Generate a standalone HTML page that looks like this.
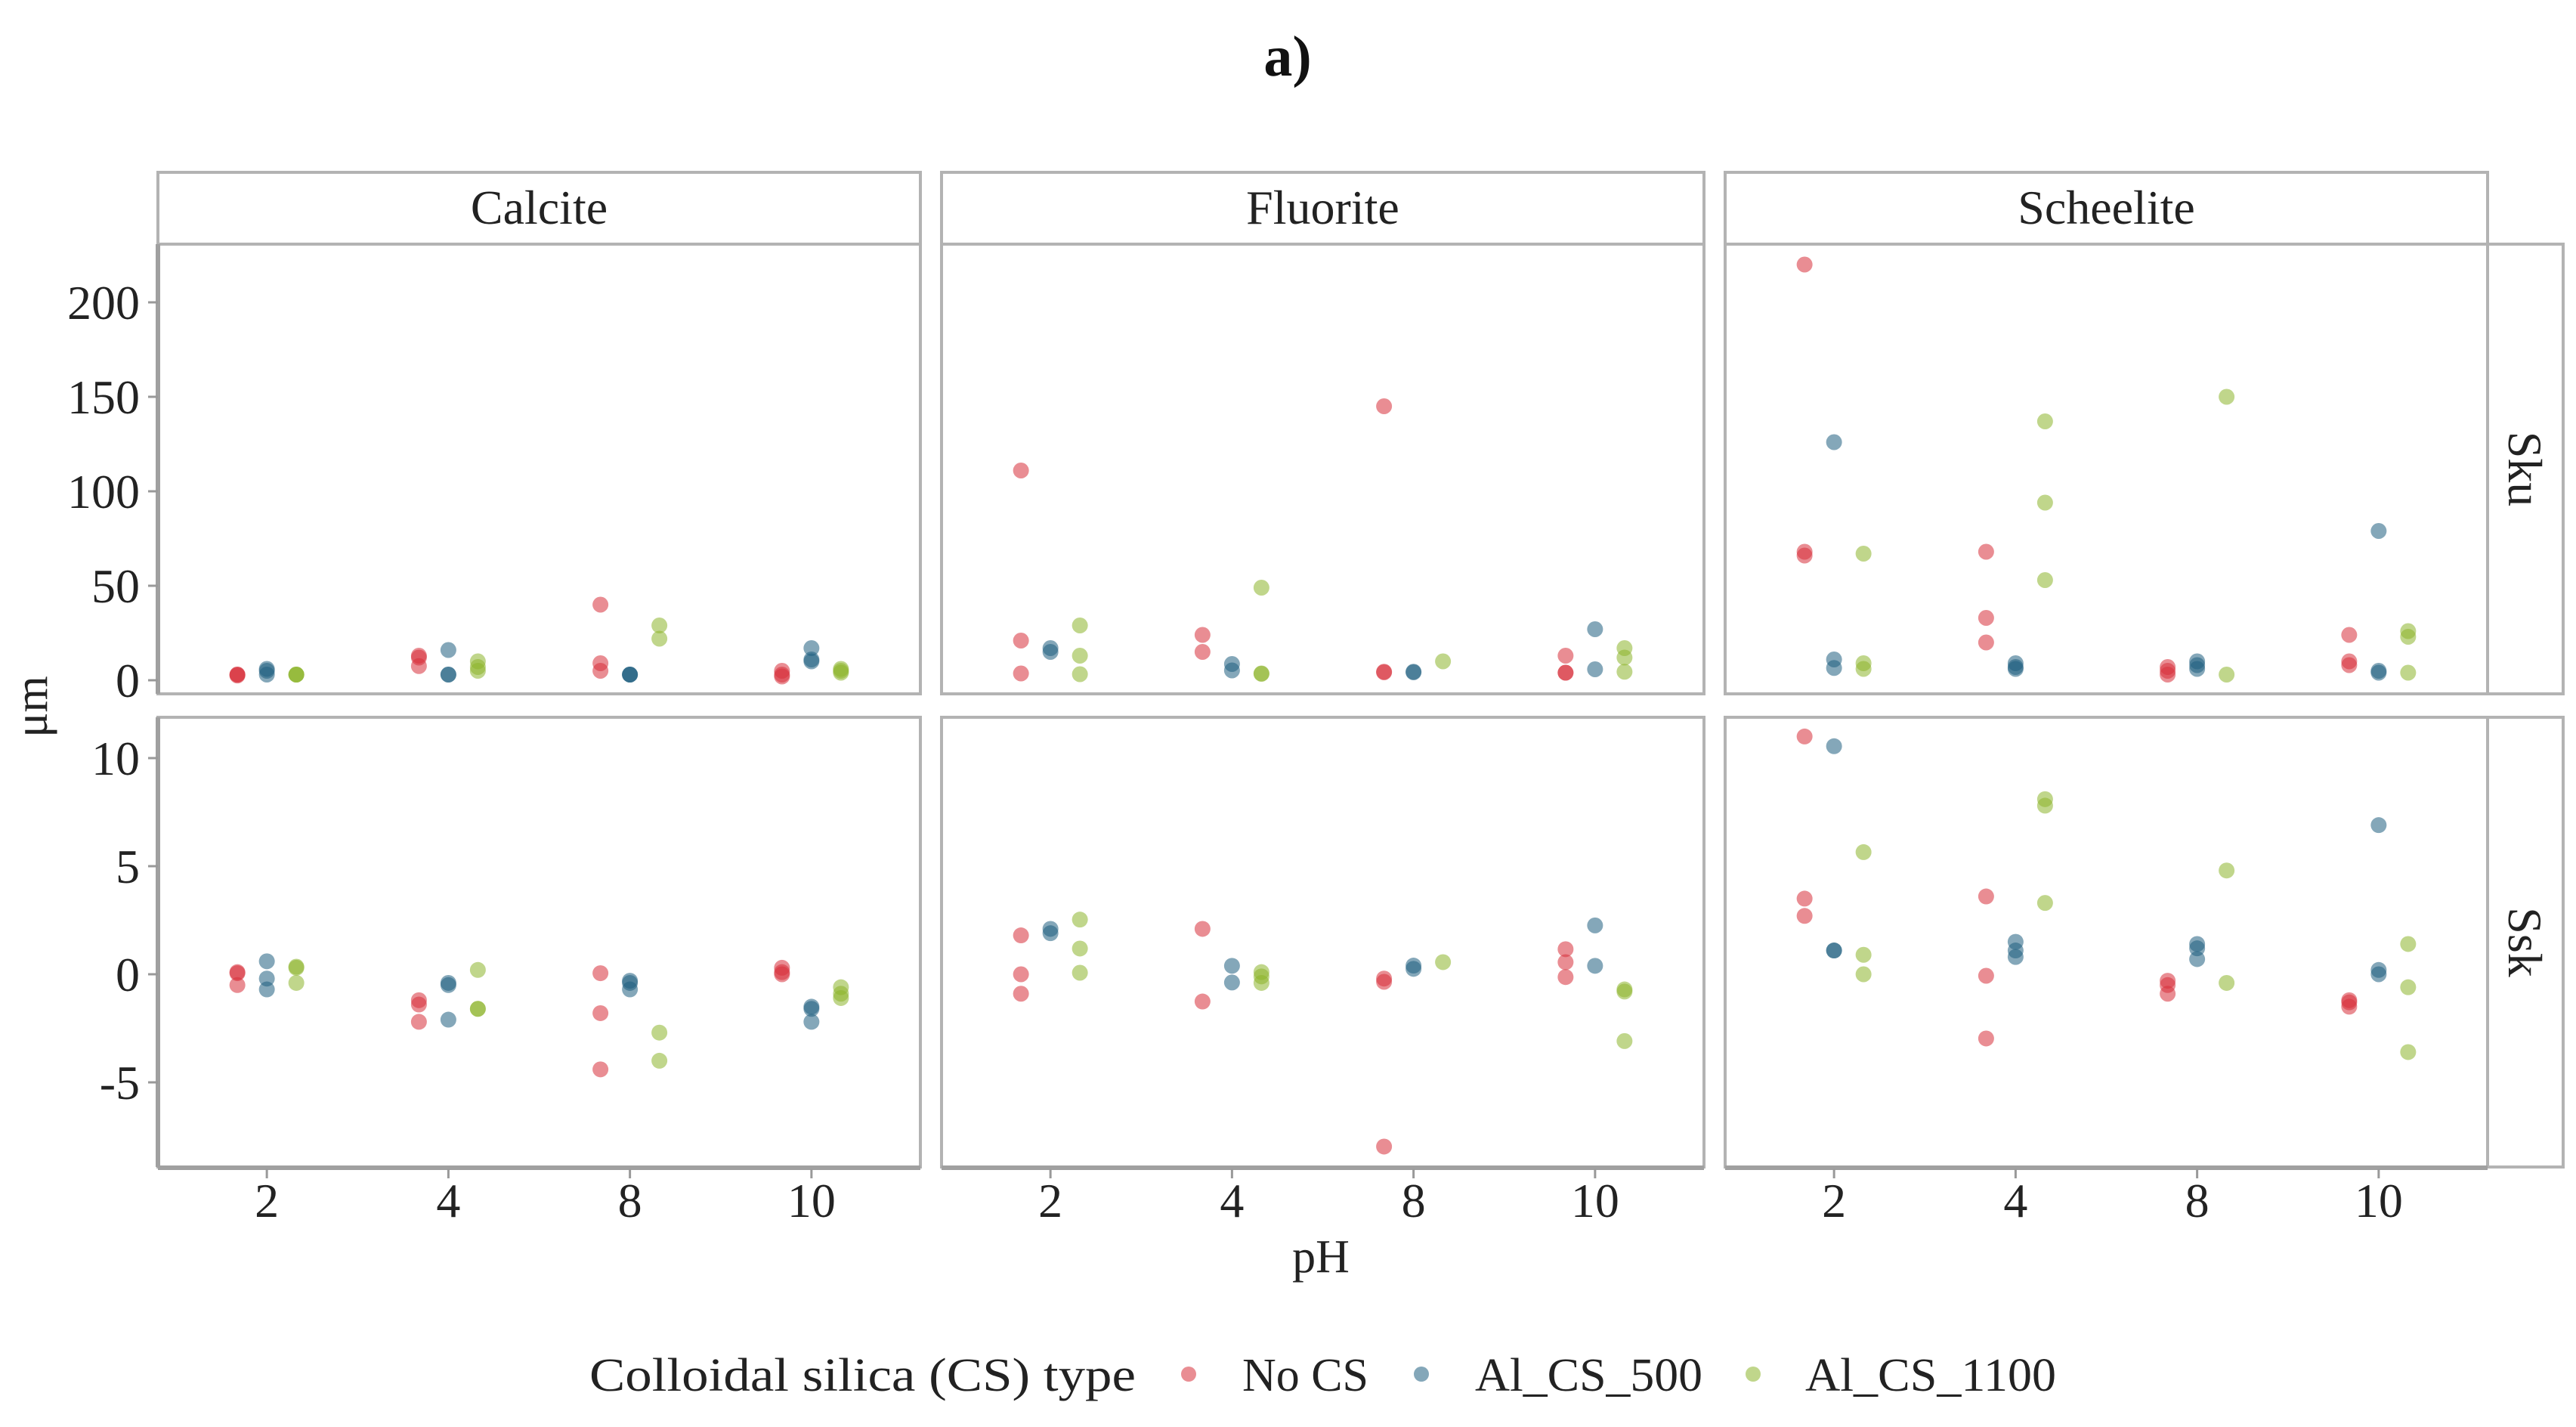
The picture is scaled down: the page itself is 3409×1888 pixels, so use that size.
<!DOCTYPE html>
<html><head><meta charset="utf-8"><style>
html,body{margin:0;padding:0;background:#fff;}
svg{display:block;}
svg text{font-family:"Liberation Serif","Times New Roman",Times,serif;}
</style></head><body>
<svg id="chart" width="3409" height="1888" viewBox="0 0 3409 1888" xmlns="http://www.w3.org/2000/svg" font-family="Liberation Serif, Times New Roman, serif">
<text x="1704" y="100" font-size="76" font-weight="bold" text-anchor="middle" fill="#111">a)</text>
<g id="panels"></g>
<text x="0" y="0" font-size="62" text-anchor="middle" fill="#222" transform="translate(62,935) rotate(-90)">μm</text>
<text x="1748" y="1683" font-size="62" text-anchor="middle" fill="#222">pH</text>
<g>
<text x="780" y="1840" font-size="62" textLength="723" lengthAdjust="spacingAndGlyphs" fill="#222">Colloidal silica (CS) type</text>
<circle cx="1573" cy="1818" r="10" fill="#d7303a" fill-opacity="0.55"/>
<text x="1644" y="1840" font-size="62" textLength="167" lengthAdjust="spacingAndGlyphs" fill="#222">No CS</text>
<circle cx="1881" cy="1818" r="10" fill="#1f5f80" fill-opacity="0.55"/>
<text x="1952" y="1840" font-size="62" textLength="301" lengthAdjust="spacingAndGlyphs" fill="#222">Al_CS_500</text>
<circle cx="2320" cy="1818" r="10" fill="#8db52c" fill-opacity="0.55"/>
<text x="2389" y="1840" font-size="62" textLength="332" lengthAdjust="spacingAndGlyphs" fill="#222">Al_CS_1100</text>
</g>
</svg>
<script>
// ---- data ----
const minerals = ["Calcite", "Fluorite", "Scheelite"];
const metrics = ["Sku", "Ssk"];
const phCategories = ["2", "4", "8", "10"];
const seriesNames = ["No CS", "Al_CS_500", "Al_CS_1100"];
const skuTicks = [0, 50, 100, 150, 200];
const sskTicks = [-5, 0, 5, 10];
// values per pH category (replicates)
const calciteSkuNoCS   = [[3,3,2.5],[13,12,7.5],[40,9,5],[5,3,2]];
const calciteSku500    = [[6,5,3],[16,3,3],[3,3,3],[17,11,10]];
const calciteSku1100   = [[3,3,3],[10,7,5],[29,22],[6,5,4]];
const calciteSskNoCS   = [[0.05,0.1,-0.5],[-1.2,-1.4,-2.2],[0.05,-1.8,-4.4],[0.3,0.1,0]];
const calciteSsk500    = [[0.6,-0.2,-0.7],[-0.4,-0.5,-2.1],[-0.3,-0.4,-0.7],[-1.5,-1.6,-2.2]];
const calciteSsk1100   = [[0.3,0.35,-0.4],[0.2,-1.6,-1.6],[-2.7,-4.0],[-0.6,-0.9,-1.1]];
const fluoriteSkuNoCS  = [[111,21,3.6],[24,15],[145,4.5,4.2],[13,4,4]];
const fluoriteSku500   = [[17,15],[8.6,5.2],[4.5,4.2],[27,5.8]];
const fluoriteSku1100  = [[29,13,3.2],[49,3.6,3.4],[10],[17,12,4.5]];
const fluoriteSskNoCS  = [[1.8,0,-0.9],[2.1,-1.26],[-0.2,-0.35,-7.97],[1.16,0.56,-0.13]];
const fluoriteSsk500   = [[2.1,1.9],[0.39,-0.38],[0.4,0.25],[2.26,0.39]];
const fluoriteSsk1100  = [[2.53,1.19,0.07],[0.1,-0.1,-0.4],[0.56],[-0.7,-0.8,-3.09]];
const scheeliteSkuNoCS = [[220,68,66],[68,33,20],[7,5,3],[24,10,8]];
const scheeliteSku500  = [[126,11,6.5],[9,7,6],[10,8,6],[79,5,4]];
const scheeliteSku1100 = [[67,9,6],[137,94,53],[150,3],[26,23,4]];
const scheeliteSskNoCS = [[11,3.5,2.7],[3.6,-0.07,-2.97],[-0.3,-0.5,-0.9],[-1.2,-1.3,-1.5]];
const scheeliteSsk500  = [[10.55,1.1,1.1],[1.5,1.1,0.8],[1.4,1.2,0.7],[6.9,0.2,0]];
const scheeliteSsk1100 = [[5.65,0.9,0],[8.1,7.8,3.3],[4.8,-0.4],[1.4,-0.6,-3.6]];

const dataSets = {
  Calcite:  {Sku:[calciteSkuNoCS,calciteSku500,calciteSku1100], Ssk:[calciteSskNoCS,calciteSsk500,calciteSsk1100]},
  Fluorite: {Sku:[fluoriteSkuNoCS,fluoriteSku500,fluoriteSku1100], Ssk:[fluoriteSskNoCS,fluoriteSsk500,fluoriteSsk1100]},
  Scheelite:{Sku:[scheeliteSkuNoCS,scheeliteSku500,scheeliteSku1100], Ssk:[scheeliteSskNoCS,scheeliteSsk500,scheeliteSsk1100]}
};

// ---- layout ----
const NS = "http://www.w3.org/2000/svg";
const colors = ["#d7303a", "#1f5f80", "#8db52c"];
const panelLeft = [209, 1246, 2283];
const panelW = 1009;
const rows = {Sku:{top:323,bottom:918,v0:900,scale:2.5,ticks:skuTicks}, Ssk:{top:949,bottom:1544,v0:1289,scale:28.6,ticks:sskTicks}};
const stripTop = 228;
const root = document.getElementById("panels");
function mk(tag, attrs){ const e=document.createElementNS(NS,tag); for(const k in attrs) e.setAttribute(k,attrs[k]); return e; }
function xScale(pi, i, s){ return panelLeft[pi] + panelW*(i+0.6)/4.2 + (s-1)*39; }
function yScale(m, v){ return rows[m].v0 - v*rows[m].scale; }

minerals.forEach((mn, pi) => {
  const L = panelLeft[pi];
  const strip = mk("rect",{x:L,y:stripTop,width:panelW,height:rows.Sku.top-stripTop,fill:"#fff",stroke:"#b3b3b3","stroke-width":4});
  
  
  root.appendChild(strip);
  const st = mk("text",{x:L+panelW/2,y:296,"font-size":64,"text-anchor":"middle",fill:"#222"});
  st.textContent = mn;
  
  
  root.appendChild(st);
  metrics.forEach(m => {
    const r = rows[m];
    const box = mk("rect",{x:L,y:r.top,width:panelW,height:r.bottom-r.top,fill:"#fff",stroke:"#b3b3b3","stroke-width":4});
    
    
    root.appendChild(box);
    if (pi === 0) {
      const ax = mk("line",{x1:L,y1:r.top,x2:L,y2:r.bottom,stroke:"#a0a0a0","stroke-width":6});
      
      
      root.appendChild(ax);
      r.ticks.forEach(t => {
        const y = yScale(m, t);
        const tk = mk("line",{x1:L-13,y1:y,x2:L,y2:y,stroke:"#999","stroke-width":3});
        
        
        root.appendChild(tk);
        const tl = mk("text",{x:L-24,y:y+22,"font-size":64,"text-anchor":"end",fill:"#222"});
        tl.textContent = t;
        
        
        root.appendChild(tl);
      });
    }
    if (pi === 2) {
      const rs = mk("rect",{x:L+panelW,y:r.top,width:100,height:r.bottom-r.top,fill:"#fff",stroke:"#b3b3b3","stroke-width":4});
      
      
      root.appendChild(rs);
      const cy = (r.top+r.bottom)/2;
      const rt = mk("text",{x:0,y:0,"font-size":64,"text-anchor":"middle",fill:"#222",transform:"translate("+(L+panelW+28)+","+cy+") rotate(90)"});
      rt.textContent = m;
      
      
      root.appendChild(rt);
    }
    dataSets[mn][m].forEach((series, s) => {
      series.forEach((vals, i) => {
        vals.forEach(v => {
          const c = mk("circle",{cx:xScale(pi,i,s),cy:yScale(m,v),r:10.5,fill:colors[s],"fill-opacity":0.55});
          
          
          root.appendChild(c);
        });
      });
    });
  });
  const xa = mk("line",{x1:L,y1:1545,x2:L+panelW,y2:1545,stroke:"#a0a0a0","stroke-width":6});
  
  
  root.appendChild(xa);
  phCategories.forEach((p, i) => {
    const x = xScale(pi, i, 1);
    const tk = mk("line",{x1:x,y1:1547,x2:x,y2:1559,stroke:"#999","stroke-width":3});
    
    
    root.appendChild(tk);
    const tl = mk("text",{x:x,y:1610,"font-size":64,"text-anchor":"middle",fill:"#222"});
    tl.textContent = p;
    
    
    root.appendChild(tl);
  });
});
</script>
</body></html>
